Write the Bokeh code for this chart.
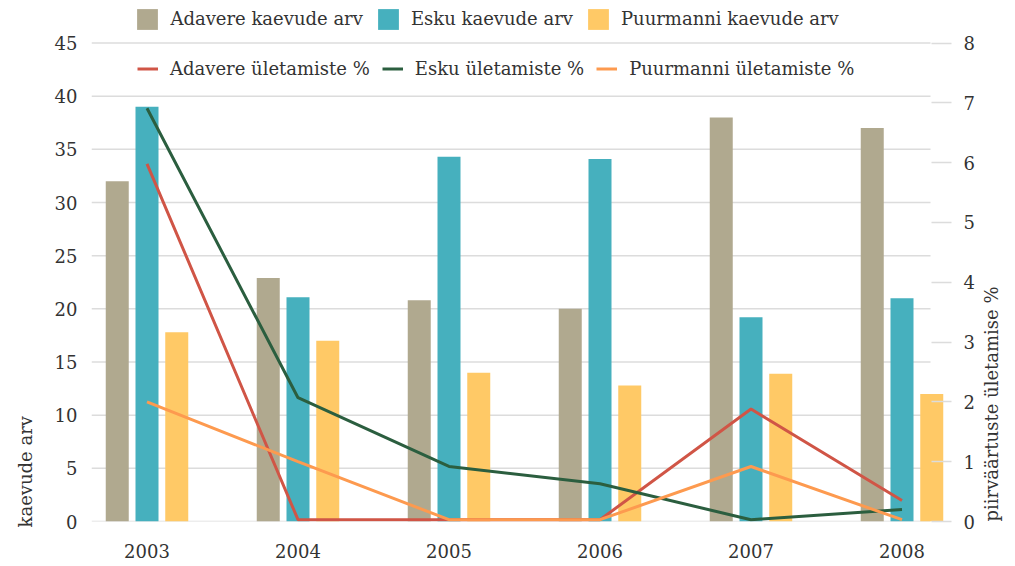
import math
from bokeh.plotting import figure
from bokeh.models import (Range1d, LinearAxis, FixedTicker, Title,
                          Legend, LegendItem, ColumnDataSource)
from bokeh.transform import dodge
from bokeh.embed import file_html
from bokeh.resources import INLINE

# ---------------- data ----------------
years = [2003, 2004, 2005, 2006, 2007, 2008]
adavere_arv = [32, 22.9, 20.8, 20, 38, 37]
esku_arv = [39, 21.1, 34.3, 34.1, 19.2, 21]
puurmanni_arv = [17.8, 17, 14, 12.8, 13.9, 12]
adavere_pct = [5.98, 0.03, 0.03, 0.03, 1.88, 0.35]
esku_pct = [6.91, 2.07, 0.92, 0.63, 0.03, 0.2]
puurmanni_pct = [2.0, 1.0, 0.03, 0.03, 0.92, 0.03]

left_ticks = [0, 5, 10, 15, 20, 25, 30, 35, 40, 45]
right_ticks = [0, 1, 2, 3, 4, 5, 6, 7, 8]

bar_labels = ["Adavere kaevude arv", "Esku kaevude arv", "Puurmanni kaevude arv"]
line_labels = ["Adavere ületamiste %", "Esku ületamiste %", "Puurmanni ületamiste %"]
left_title = "kaevude arv"
right_title = "piirväärtuste ületamise %"

# ---------------- style ----------------
FONT = "DejaVu Serif"
TXT = "#333333"
GRID = "#dcdcdc"
bar_colors = ["#b0a98f", "#46b0be", "#ffc966"]
line_colors = ["#d05546", "#2b5e3f", "#fd9a4f"]

src = ColumnDataSource(dict(year=years, a=adavere_arv, e=esku_arv, p=puurmanni_arv,
                            ap=adavere_pct, ep=esku_pct, pp=puurmanni_pct))

W, H = 1015, 564
FL, FR, FB = 91, 951, 521          # frame left / right / bottom (px)
TOP45 = 42.5                        # pixel row of the top tick
PX = 151.0                          # pixels per year
x0 = 2003 - (146.5 - FL) / PX
x1 = 2008 + (FR - 901.5) / PX
ypx = (FB - TOP45) / 45.0
rpx = (FB - TOP45) / 8.0
y_end = 45 + TOP45 / ypx
r_end = 8 + TOP45 / rpx

p = figure(width=W, height=H, output_backend="svg", toolbar_location=None,
           x_range=Range1d(x0, x1), y_range=Range1d(0, y_end),
           min_border_left=FL, min_border_right=W - FR, min_border_top=0,
           min_border_bottom=H - FB)
p.outline_line_color = None
p.background_fill_color = "white"
p.extra_y_ranges = {"pct": Range1d(0, r_end)}

# horizontal grid lines (stop short of the right tick marks)
xg = 2008 + (930 - 901.5) / PX
p.segment(x0=[x0] * len(left_ticks), x1=[xg] * len(left_ticks),
          y0=left_ticks, y1=left_ticks, line_color=GRID, line_width=1.5,
          level="underlay")
p.xgrid.grid_line_color = None
p.ygrid.grid_line_color = None

bw = 23 / PX
off = 29.75 / PX
bars = []
for i, (col, c) in enumerate(zip(["a", "e", "p"], bar_colors)):
    r = p.vbar(x=dodge("year", (i - 1) * off), top=col, width=bw, source=src,
               fill_color=c, line_color=None)
    bars.append(r)

lines = []
for col, c in zip(["ap", "ep", "pp"], line_colors):
    r = p.line(x="year", y=col, source=src, line_color=c, line_width=3,
               y_range_name="pct")
    lines.append(r)

# axes
p.xaxis.ticker = FixedTicker(ticks=years)
p.yaxis.ticker = FixedTicker(ticks=left_ticks)
for ax in p.xaxis + p.yaxis:
    ax.axis_line_color = None
    ax.major_tick_line_color = None
    ax.minor_tick_line_color = None
    ax.major_label_text_font = FONT
    ax.major_label_text_font_size = "18px"
    ax.major_label_text_color = TXT
p.yaxis.major_label_standoff = 8
p.xaxis.major_label_standoff = 16

ra = LinearAxis(y_range_name="pct", ticker=FixedTicker(ticks=right_ticks))
ra.axis_line_color = None
ra.minor_tick_line_color = None
ra.major_tick_in = 20
ra.major_tick_out = 0
ra.major_tick_line_color = GRID
ra.major_tick_line_width = 1.5
ra.major_label_standoff = 12
ra.major_label_text_font = FONT
ra.major_label_text_font_size = "18px"
ra.major_label_text_color = TXT
ra.axis_label = right_title
ra.axis_label_standoff = 14
ra.axis_label_text_font = FONT
ra.axis_label_text_font_size = "18px"
ra.axis_label_text_font_style = "normal"
ra.axis_label_text_color = TXT
ra.axis_label_orientation = math.pi / 2
ra.axis_label_align = "start"
p.add_layout(ra, "right")

# left title, bottom-aligned like the reference
lt = Title(text=left_title, align="left", vertical_align="top", standoff=28,
           offset=-6, text_font=FONT, text_font_size="18px",
           text_font_style="normal", text_color=TXT)
p.add_layout(lt, "left")

def mk_legend(items, vx, vy, gw, gh, standoff):
    return Legend(items=items, orientation="horizontal", location=(vx, vy),
                  padding=0, margin=0, spacing=12, label_standoff=standoff,
                  glyph_width=gw, glyph_height=gh,
                  label_text_font=FONT, label_text_font_size="18px",
                  label_text_color=TXT, background_fill_alpha=0,
                  border_line_alpha=0)

leg1 = mk_legend([LegendItem(label=l, renderers=[r]) for l, r in zip(bar_labels, bars)],
                 137 - 2.6 - FL, FB - 31.5, 26, 26, 10)
leg2 = mk_legend([LegendItem(label=l, renderers=[r]) for l, r in zip(line_labels, lines)],
                 137 - FL, FB - 79, 21, 21, 12)
p.add_layout(leg1, "center")
p.add_layout(leg2, "center")

open("out.html", "w").write(file_html(p, INLINE))
